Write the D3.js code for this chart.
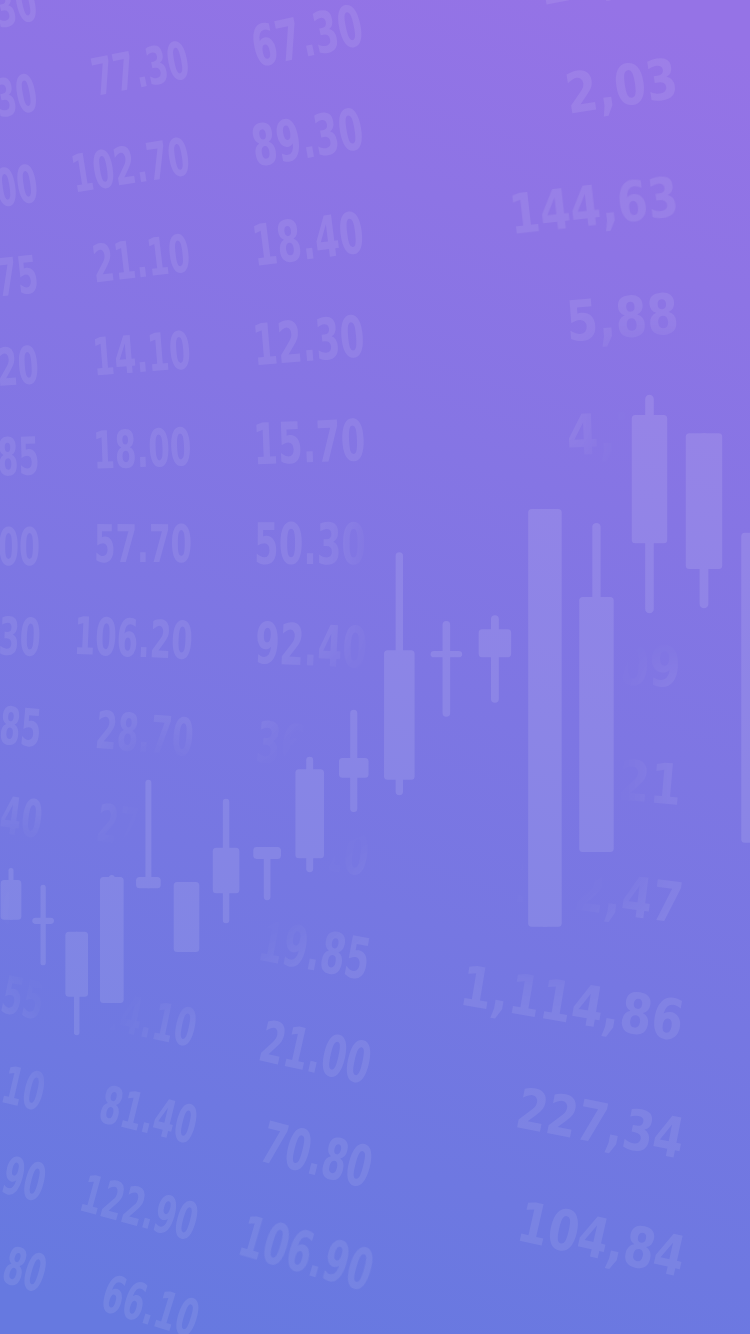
<!DOCTYPE html>
<html>
<head>
<meta charset="utf-8">
<script src="https://cdn.jsdelivr.net/npm/d3@7"></script>
<style>
  html, body { margin: 0; padding: 0; overflow: hidden; background: #7f78e3; }
  svg { display: block; }
</style>
</head>
<body>
<svg id="chart" width="750" height="1334"></svg>
<script>
// candlesticks, left to right (price units)
const candleOpen  = [18.6, 18.0, 16.9,  6.7, 23.1, 24.0, 22.4, 27.3, 27.4, 38.9, 38.6, 56.1, 56.1, 17.6, 64.7, 72.4, 88.1, 73.9];
const candleClose = [24.3, 18.9,  7.6, 24.7, 24.7, 14.0, 28.9, 29.0, 40.1, 41.7, 57.1, 57.0, 60.1, 77.3, 28.3, 90.7, 68.7, 29.6];
const candleHigh  = [26.0, 23.6, 16.9, 25.0, 38.6, 24.0, 35.9, 29.0, 41.9, 48.6, 71.1, 61.3, 62.1, 77.3, 75.3, 93.6, 88.1, 73.9];
const candleLow   = [18.6, 12.1,  2.1,  6.7, 23.1, 14.0, 18.1, 21.4, 25.4, 34.0, 36.4, 47.6, 49.6, 17.6, 28.3, 62.4, 63.1, 29.6];

// quote columns, top to bottom
const quotesA = ["30", "30", "00", "75", "20", "85", "00", "30", "85", "40", "60", "55", "10", "90", "80"];
const quotesB = ["77.30", "102.70", "21.10", "14.10", "18.00", "57.70", "106.20", "28.70", "27.40", "31.60", "24.10", "81.40", "122.90", "66.10"];
const quotesC = ["67.30", "89.30", "18.40", "12.30", "15.70", "50.30", "92.40", "36.20", "44.10", "19.85", "21.00", "70.80", "106.90"];
const quotesD = ["12,71", "2,03", "144,63", "5,88", "4,72", "3,16", "8,09", "8,21", "112,47", "1,114,86", "227,34", "104,84"];

const W = 750, H = 1334;
const svg = d3.select('#chart');
const defs = svg.append('defs');

const bg = defs.append('linearGradient')
    .attr('id', 'bg')
    .attr('gradientUnits', 'userSpaceOnUse')
    .attr('x1', 600).attr('y1', 0)
    .attr('x2', 150).attr('y2', H);
bg.append('stop').attr('offset', 0).attr('stop-color', '#9573e6');
bg.append('stop').attr('offset', 1).attr('stop-color', '#6679e0');

svg.append('rect').attr('width', W).attr('height', H).attr('fill', 'url(#bg)');

// scales
// slots get wider to the right (seen in perspective)
const slot = d3.scalePow().exponent(2).domain([21, 38]).range([11, 760]);
const x = i => slot(i + 21);
const slotWidth = i => x(i + 0.5) - x(i - 0.5);
const y = d3.scaleLinear().domain([0, 100]).range([1050, 350]);

const candles = candleOpen.map((o, i) => ({
    i: i, open: o, close: candleClose[i], high: candleHigh[i], low: candleLow[i]
}));

// mask so the quotes fade out around the candles
const blur = defs.append('filter').attr('id', 'soft')
    .attr('x', '-50%').attr('y', '-50%').attr('width', '200%').attr('height', '200%');
blur.append('feGaussianBlur').attr('stdDeviation', 20);

const mask = defs.append('mask').attr('id', 'fade')
    .attr('maskUnits', 'userSpaceOnUse')
    .attr('x', 0).attr('y', 0).attr('width', W).attr('height', H);
mask.append('rect').attr('width', W).attr('height', H).attr('fill', '#fff');
mask.append('g').attr('filter', 'url(#soft)')
    .selectAll('rect')
    .data(candles)
    .join('rect')
    .attr('x', d => x(d.i) - slotWidth(d.i))
    .attr('width', d => slotWidth(d.i) * 2)
    .attr('y', d => y(d.high) - 50)
    .attr('height', d => y(d.low) - y(d.high) + 100)
    .attr('fill', '#000');

// quotes
const rotate = d3.scaleLinear().domain([0, 560, 1000, H]).range([-13, 0, 11, 17]);

const columns = [
    { values: quotesA, right: 40,  first: 19,  step: 91,  size: 52, digit: 21,   punct: 14, tilt: 1 },
    { values: quotesB, right: 192, first: 77,  step: 97,  size: 52, digit: 21,   punct: 14, tilt: 1 },
    { values: quotesC, right: 366, first: 44,  step: 104, size: 57, digit: 24,   punct: 16, tilt: 1 },
    { values: quotesD, right: 680, first: -21, step: 118, size: 56, digit: 28.5, punct: 27, tilt: 0.8 }
];

const quotes = svg.append('g')
    .attr('mask', 'url(#fade)')
    .attr('fill', '#fff')
    .attr('fill-opacity', 0.085)
    .style('font-family', '"DejaVu Sans", Verdana, sans-serif')
    .style('font-weight', 'bold');

columns.forEach(col => {
    const row = d3.scaleLinear().domain([0, 1]).range([col.first, col.first + col.step]);
    quotes.append('g')
        .selectAll('text')
        .data(col.values)
        .join('text')
        .attr('text-anchor', 'end')
        .style('font-size', col.size + 'px')
        .text(d => d)
        .each(function(d, k) {
            const digits = d.replace(/[^0-9]/g, '').length;
            const target = digits * col.digit + (d.length - digits) * col.punct;
            const sx = target / this.getComputedTextLength();
            const ry = row(k);
            d3.select(this).attr('transform',
                'translate(' + col.right + ',' + ry + ') rotate(' + (rotate(ry) * col.tilt) + ') scale(' + sx + ',1)');
        });
});

// candles: opacity on the group so wick and body don't stack
const chart = svg.append('g').attr('fill', '#fff').attr('opacity', 0.11);

chart.selectAll('rect.wick')
    .data(candles)
    .join('rect')
    .attr('class', 'wick')
    .attr('x', d => x(d.i) - slotWidth(d.i) * 0.08)
    .attr('width', d => slotWidth(d.i) * 0.16)
    .attr('y', d => y(d.high))
    .attr('height', d => y(d.low) - y(d.high))
    .attr('rx', d => slotWidth(d.i) * 0.08);

chart.selectAll('rect.body')
    .data(candles)
    .join('rect')
    .attr('class', 'body')
    .attr('x', d => x(d.i) - slotWidth(d.i) * 0.33)
    .attr('width', d => slotWidth(d.i) * 0.66)
    .attr('y', d => Math.min(y(d.open), y(d.close)) - (Math.abs(y(d.open) - y(d.close)) < 6 ? 3 : 0))
    .attr('height', d => Math.max(6, Math.abs(y(d.open) - y(d.close))))
    .attr('rx', 3.5);
</script>
</body>
</html>
